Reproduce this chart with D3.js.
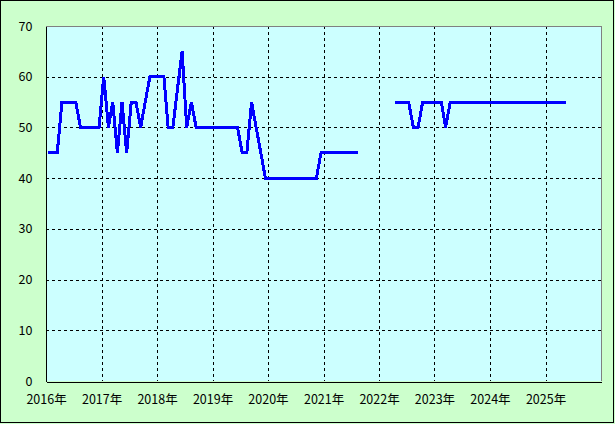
<!DOCTYPE html>
<html>
<head>
<meta charset="utf-8">
<script src="https://cdn.jsdelivr.net/npm/d3@7"></script>
<style>
  html, body { margin: 0; padding: 0; background: #CCFFCC; }
  svg { display: block; }
  text { font-family: "Noto Sans CJK JP", "DejaVu Sans", sans-serif; font-size: 12.5px; fill: #000; }
</style>
</head>
<body>
<svg id="chart" width="615" height="424"></svg>
<script>
// ---- data (monthly, Jan 2016 .. May 2025; null = no data) ----
const startYear = 2016;
const values2016 = [45, 45, 45, 55, 55, 55, 55, 50, 50, 50, 50, 50];
const values2017 = [60, 50, 55, 45, 55, 45, 55, 55, 50, 55, 60, 60];
const values2018 = [60, 60, 50, 50, 57.5, 65, 50, 55, 50, 50, 50, 50];
const values2019 = [50, 50, 50, 50, 50, 50, 45, 45, 55, 50, 45, 40];
const values2020 = [40, 40, 40, 40, 40, 40, 40, 40, 40, 40, 40, 45];
const values2021 = [45, 45, 45, 45, 45, 45, 45, 45, null, null, null, null];
const values2022 = [null, null, null, 55, 55, 55, 55, 50, 50, 55, 55, 55];
const values2023 = [55, 55, 50, 55, 55, 55, 55, 55, 55, 55, 55, 55];
const values2024 = [55, 55, 55, 55, 55, 55, 55, 55, 55, 55, 55, 55];
const values2025 = [55, 55, 55, 55, 55];
const yTicks = [0, 10, 20, 30, 40, 50, 60, 70];
const xTickYears = [2016, 2017, 2018, 2019, 2020, 2021, 2022, 2023, 2024, 2025];
const yearSuffix = "年";

const allValues = [].concat(values2016, values2017, values2018, values2019, values2020,
                            values2021, values2022, values2023, values2024, values2025);
const data = allValues.map((v, i) => ({
  date: new Date(startYear + Math.floor(i / 12), i % 12, 15),
  value: v
}));

// ---- layout ----
const svg = d3.select("#chart");
const plot = { left: 46, right: 601, top: 26, bottom: 381 };

const x = d3.scaleTime()
  .domain([new Date(2016, 0, 1), new Date(2026, 0, 1)])
  .range([plot.left, plot.right]);
const y = d3.scaleLinear().domain([0, 70]).range([plot.bottom, plot.top]);

// outer background + frame
svg.append("rect").attr("x", 0.5).attr("y", 0.5).attr("width", 613).attr("height", 422)
  .attr("fill", "#CCFFCC").attr("stroke", "#000").attr("stroke-width", 1);

// plot background
svg.append("rect")
  .attr("x", plot.left).attr("y", plot.top)
  .attr("width", plot.right - plot.left).attr("height", plot.bottom - plot.top)
  .attr("fill", "#CCFFFF");

// gridlines
const grid = svg.append("g").attr("shape-rendering", "crispEdges")
  .attr("stroke", "#000").attr("stroke-width", 1).attr("stroke-dasharray", "3,3");
grid.selectAll("line.h").data(yTicks.filter(t => t > 0 && t < 70)).join("line")
  .attr("class", "h")
  .attr("x1", plot.left).attr("x2", plot.right)
  .attr("y1", d => Math.round(y(d)) + 0.5).attr("y2", d => Math.round(y(d)) + 0.5);
grid.selectAll("line.v").data(xTickYears.filter(yr => yr > 2016)).join("line")
  .attr("class", "v")
  .attr("y1", plot.top).attr("y2", plot.bottom)
  .attr("x1", d => Math.round(x(new Date(d, 0, 1))) + 0.5)
  .attr("x2", d => Math.round(x(new Date(d, 0, 1))) + 0.5);

// plot frame: top/right gray, left/bottom black
const frame = svg.append("g").attr("shape-rendering", "crispEdges").attr("stroke-width", 1);
frame.append("line").attr("x1", plot.left).attr("x2", plot.right + 0.5)
  .attr("y1", plot.top + 0.5).attr("y2", plot.top + 0.5).attr("stroke", "#808080");
frame.append("line").attr("x1", plot.right + 0.5).attr("x2", plot.right + 0.5)
  .attr("y1", plot.top).attr("y2", plot.bottom).attr("stroke", "#808080");

// axes (D3 axes, no tick marks)
const xAxis = d3.axisBottom(x)
  .tickValues(xTickYears.map(yr => new Date(yr, 0, 1)))
  .tickFormat(d => d.getFullYear() + yearSuffix)
  .tickSize(0).tickPadding(14);
const gx = svg.append("g").attr("transform", `translate(0,${plot.bottom + 0.5})`).call(xAxis);
gx.select(".domain").attr("stroke", "#000").attr("shape-rendering", "crispEdges");
gx.selectAll("text").attr("font-family", null).attr("font-size", null);

const yAxis = d3.axisLeft(y).tickValues(yTicks).tickFormat(d3.format("d"))
  .tickSize(0).tickPadding(13);
const gy = svg.append("g").attr("transform", `translate(${plot.left - 0.5},0)`).call(yAxis);
gy.select(".domain").attr("stroke", "#000").attr("shape-rendering", "crispEdges");
gy.selectAll("text").attr("font-family", null).attr("font-size", null);
svg.selectAll(".tick text").style("fill", "#000");
svg.selectAll("g[font-family]").attr("font-family", null).attr("font-size", null);

// data line
const line = d3.line()
  .defined(d => d.value !== null)
  .x(d => x(d.date))
  .y(d => y(d.value));
svg.append("path").datum(data)
  .attr("d", line)
  .attr("fill", "none")
  .attr("stroke", "#0000FF")
  .attr("stroke-width", 3)
  .attr("stroke-linejoin", "miter")
  .attr("shape-rendering", "crispEdges");
</script>
</body>
</html>
